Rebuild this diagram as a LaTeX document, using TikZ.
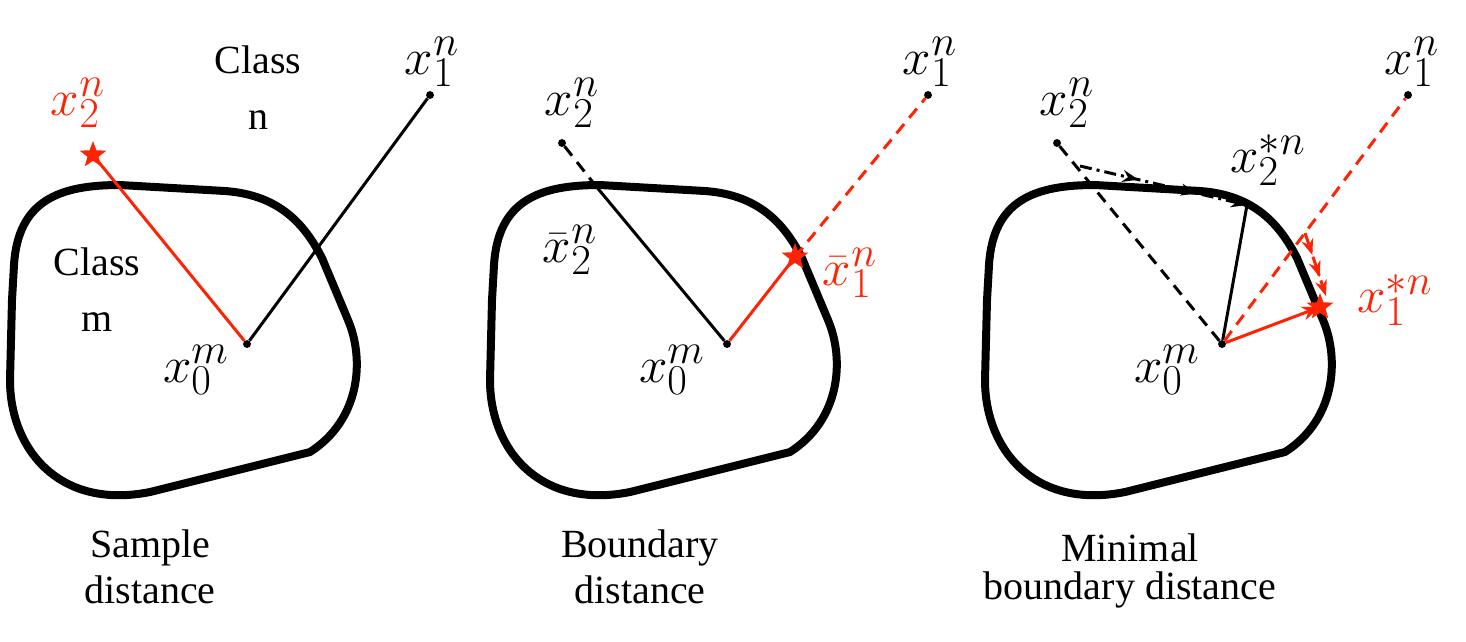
\documentclass[tikz,border=0pt]{standalone}
\usepackage{graphicx}
\usepackage{fontspec}
\newfontfamily\tms{Liberation Serif}
\usetikzlibrary{shapes.geometric,decorations.markings,arrows.meta}
\newcommand{\mth}[1]{\scalebox{2.05}{\Huge$#1$}}
\definecolor{rd}{RGB}{255,35,5}
\begin{document}
\begin{tikzpicture}[x=1pt,y=-1pt,
  blob/.style={line width=8pt,line join=round},
  dot/.style={circle,fill,inner sep=2.8pt},
  lab/.style={inner sep=0pt},
  txt/.style={font=\tms\fontsize{40}{44}\selectfont,inner sep=0pt},
  rstar/.style={star,star points=5,star point ratio=2.4,fill=rd,inner sep=0pt,minimum size=28pt},
  thin/.style={line width=3pt},
  dsh/.style={line width=3pt,dash pattern=on 12pt off 8pt},
  marks/.style={decoration={markings,mark=at position 0.35 with {\arrow{Stealth[length=16pt,width=12pt,open]}},mark=at position 0.7 with {\arrow{Stealth[length=16pt,width=12pt,open]}}},postaction={decorate}}]
\useasboundingbox (0,0) rectangle (1466,641);
\newcommand{\myblob}[1]{
  \begin{scope}[xshift=#1]
  \draw[blob] (12,300) -- (14,265) .. controls (18,200) and (60,185) .. (120,185)
     -- (225,191) .. controls (280,195) and (305,225) .. (322,258) -- (348,320)
     .. controls (365,360) and (360,420) .. (310,452) -- (150,492)
     .. controls (60,510) and (10,450) .. (10,380) -- cycle;
  \end{scope}}
% panel 1
\myblob{0}
\node[dot] (a0) at (247,344) {};
\node[dot] (a1) at (430,95) {};
\draw[thin] (a0) -- (a1);
\draw[thin,rd] (a0) -- (93,155);
\node[rstar] (a2) at (93,155) {};
\node[lab,rd] at (78,103) {\mth{x_2^n}};
\node[lab] at (432,62) {\mth{x_1^n}};
\node[lab] at (196,370) {\mth{x_0^m}};
\node[txt] at (258,60) {Class};
\node[txt] at (258,120) {n};
\node[txt] at (97,262) {Class};
\node[txt] at (97,322) {m};
\node[txt] at (150,548) {Sample};
\node[txt] at (150,590) {distance};
% panel 2
\myblob{480}
\node[dot] (b0) at (727,344) {};
\node[dot] (b1) at (928,95) {};
\node[dot] (b2) at (562,143) {};
\coordinate (bc) at (595,185);
\coordinate (bsc) at (795,257);
\draw[dsh] (b2) -- (bc);
\draw[thin] (bc) -- (b0);
\draw[thin,rd] (b0) -- (bsc);
\draw[dsh,rd] (bsc) -- (b1);
\node[rstar] (bs) at (bsc) {};
\node[lab] at (572,103) {\mth{x_2^n}};
\node[lab] at (930,62) {\mth{x_1^n}};
\node[lab] at (672,370) {\mth{x_0^m}};
\node[lab] at (570,250) {\mth{\bar{x}_2^n}};
\node[lab,rd] at (850,273) {\mth{\bar{x}_1^n}};
\node[txt] at (640,548) {Boundary};
\node[txt] at (640,590) {distance};
% panel 3
\myblob{975}
\node[dot] (c0) at (1222,344) {};
\node[dot] (c1) at (1408,95) {};
\node[dot] (c2) at (1057,143) {};
\coordinate (cb) at (1247,205);
\coordinate (cs0) at (1080,166);
\coordinate (cr0) at (1305,233);
\coordinate (csc) at (1320,307);
\draw[dsh] (c2) -- (c0);
\draw[thin] (c0) -- (cb);
\draw[dsh,rd] (c0) -- (c1);
\draw[thin,rd,-{Stealth[length=18pt,width=14pt]}] (c0) -- (csc);
\node[rstar] (cs) at (csc) {};
\draw[line width=3pt,dash pattern=on 12pt off 5pt on 3pt off 5pt,marks,-{Stealth[length=16pt,width=12pt,open]}] (cs0) -- (cb);
\draw[line width=3pt,rd,dash pattern=on 12pt off 5pt on 3pt off 5pt,marks,-{Stealth[length=16pt,width=12pt,open]}] (cr0) -- (1326,296);
\node[lab] at (1067,103) {\mth{x_2^n}};
\node[lab] at (1412,62) {\mth{x_1^n}};
\node[lab] at (1167,370) {\mth{x_0^m}};
\node[lab] at (1268,160) {\mth{x_2^{*n}}};
\node[lab,rd] at (1395,300) {\mth{x_1^{*n}}};
\node[txt] at (1130,548) {Minimal};
\node[txt] at (1130,590) {boundary distance};
\end{tikzpicture}
\end{document}
